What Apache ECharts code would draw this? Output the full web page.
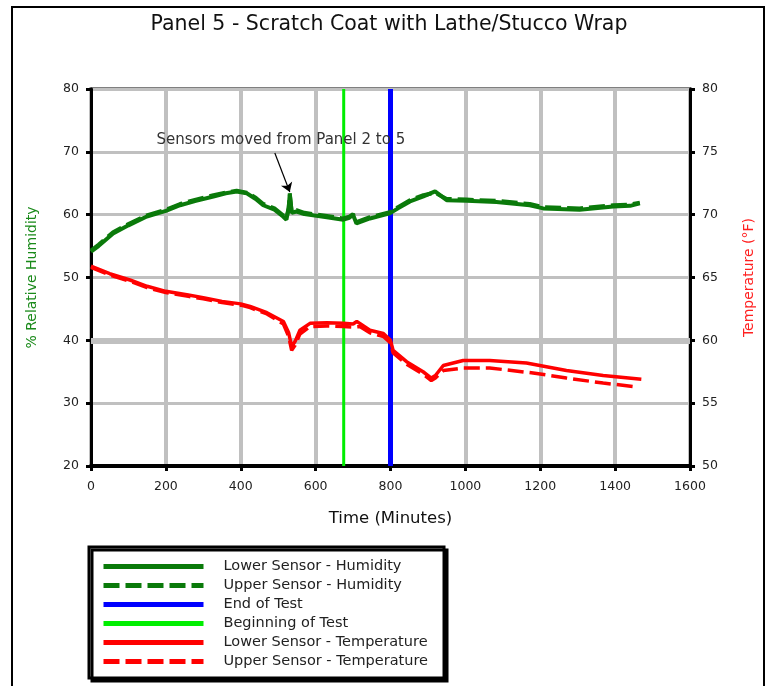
<!DOCTYPE html>
<html>
<head>
<meta charset="utf-8">
<script src="https://cdn.jsdelivr.net/npm/echarts@6/dist/echarts.min.js"></script>
<style>html,body{margin:0;padding:0;background:#fff;}#chart{width:778px;height:686px;}</style>
</head>
<body>
<div id="chart"></div>
<script>
// ---- Data ----
var titleText = 'Panel 5 - Scratch Coat with Lathe/Stucco Wrap';
var xTicks = [0, 200, 400, 600, 800, 1000, 1200, 1400, 1600];

// Humidity (% RH, left axis)
var humTime = [0, 20, 59, 100, 149, 200, 238, 280, 327, 360, 389, 416, 440, 460, 490, 513, 522, 528, 531, 536, 549, 570, 593, 630, 674, 690, 700, 709, 745, 798, 820, 852, 888, 919, 950, 1003, 1083, 1172, 1208, 1305, 1395, 1440, 1466];
var humLower = [54.1, 55.0, 57.0, 58.3, 59.7, 60.6, 61.5, 62.2, 62.9, 63.4, 63.7, 63.4, 62.5, 61.5, 60.8, 59.7, 59.2, 61.0, 63.4, 60.3, 60.5, 60.1, 59.9, 59.6, 59.2, 59.5, 60.0, 58.6, 59.4, 60.2, 61.0, 62.1, 62.9, 63.7, 62.3, 62.2, 62.0, 61.5, 61.0, 60.8, 61.3, 61.4, 61.8];
var humUpper = [54.3, 55.2, 57.2, 58.5, 59.9, 60.8, 61.7, 62.4, 63.1, 63.5, 63.8, 63.5, 62.7, 61.7, 61.0, 59.9, 59.4, 61.1, 63.2, 60.5, 60.7, 60.3, 60.1, 59.8, 59.4, 59.7, 60.1, 58.8, 59.6, 60.4, 61.2, 62.3, 63.1, 63.5, 62.5, 62.4, 62.2, 61.7, 61.2, 61.0, 61.5, 61.6, 61.9];

// Temperature (deg F, right axis)
var tempTime = [0, 50, 104, 150, 200, 260, 300, 350, 400, 425, 470, 514, 528, 536, 545, 558, 585, 630, 674, 700, 710, 718, 745, 781, 800, 807, 843, 887, 909, 920, 941, 994, 1065, 1163, 1270, 1368, 1470];
var tempLower = [65.9, 65.3, 64.8, 64.3, 63.9, 63.6, 63.4, 63.1, 62.9, 62.7, 62.2, 61.5, 60.6, 59.5, 59.9, 60.8, 61.35, 61.4, 61.35, 61.3, 61.5, 61.35, 60.8, 60.55, 60.0, 59.2, 58.3, 57.5, 57.0, 57.2, 58.0, 58.4, 58.4, 58.2, 57.6, 57.2, 56.9];
var tempUpperTime = [0, 50, 104, 150, 200, 260, 300, 350, 400, 425, 470, 514, 528, 536, 545, 558, 585, 630, 674, 700, 718, 745, 781, 800, 807, 843, 887, 909, 920, 941, 994, 1065, 1181, 1270, 1368, 1457];
var tempUpper = [65.8, 65.2, 64.7, 64.2, 63.8, 63.5, 63.3, 63.0, 62.8, 62.6, 62.1, 61.3, 60.3, 59.2, 59.6, 60.5, 61.1, 61.15, 61.1, 61.05, 61.1, 60.6, 60.3, 59.8, 59.0, 58.1, 57.3, 56.8, 57.0, 57.6, 57.8, 57.8, 57.4, 57.0, 56.6, 56.3];

// Test markers (minutes)
var beginningOfTest = 675;
var endOfTest = 800;

// Annotation
var noteText = 'Sensors moved from Panel 2 to 5';
var notePos = [507, 71.9];
var arrowFrom = [491, 69.8];
var arrowTo = [531, 63.6];

function pairs(xs, ys) { return xs.map(function (x, i) { return [x, ys[i]]; }); }

var FONT = 'DejaVu Sans';
var chart = echarts.init(document.getElementById('chart'), null, { renderer: 'canvas' });

var option = {
  backgroundColor: '#ffffff',
  animation: false,
  title: {
    text: titleText, left: 'center', top: 9,
    textStyle: { fontFamily: FONT, fontSize: 20.5, fontWeight: 'normal', color: '#111' }
  },
  graphic: [
    { type: 'rect', shape: { x: 12, y: 7, width: 752, height: 700 }, style: { fill: 'none', stroke: '#000', lineWidth: 2 }, z: -1 }
  ],
  grid: { left: 91, right: 88, top: 89, bottom: 220, show: true, borderColor: '#000', borderWidth: 3 },
  legend: {
    orient: 'vertical', left: 89, top: 547,
    padding: [12, 16, 9, 12],
    itemWidth: 100, itemHeight: 14, itemGap: 4,
    backgroundColor: '#fff',
    borderColor: '#000', borderWidth: 3,
    shadowColor: '#000', shadowBlur: 0, shadowOffsetX: 3, shadowOffsetY: 3,
    itemStyle: { opacity: 0 },
    lineStyle: { width: 5 },
    textStyle: { fontFamily: FONT, fontSize: 14.5, color: '#222', padding: [0, 0, 0, 15] },
    data: ['Lower Sensor - Humidity', 'Upper Sensor - Humidity', 'End of Test', 'Beginning of Test', 'Lower Sensor - Temperature', 'Upper Sensor - Temperature']
  },
  xAxis: {
    type: 'value', min: 0, max: 1600, interval: 200,
    name: 'Time (Minutes)', nameLocation: 'middle', nameGap: 44,
    nameTextStyle: { fontFamily: FONT, fontSize: 16.5, color: '#111' },
    axisLine: { show: true, lineStyle: { color: '#000', width: 4 } },
    axisTick: { show: true, length: 5, lineStyle: { color: '#000', width: 3 } },
    axisLabel: { fontFamily: FONT, fontSize: 12.5, color: '#222', margin: 14, formatter: function (v) { return String(v); } },
    splitLine: { show: true, lineStyle: { color: '#c0c0c0', width: 4 } }
  },
  yAxis: [
    {
      type: 'value', min: 20, max: 80, interval: 10, position: 'left',
      name: '% Relative Humidity', nameLocation: 'middle', nameGap: 52, nameRotate: 90,
      nameTextStyle: { fontFamily: FONT, fontSize: 14, color: '#1a8a1a' },
      axisLine: { show: true, lineStyle: { color: '#000', width: 3 } },
      axisTick: { show: true, length: 5, lineStyle: { color: '#000', width: 3 } },
      axisLabel: { fontFamily: FONT, fontSize: 12.5, color: '#222', margin: 12 },
      splitLine: { show: true, lineStyle: { color: '#c0c0c0', width: 3 } }
    },
    {
      type: 'value', min: 50, max: 80, interval: 5, position: 'right',
      name: 'Temperature (°F)', nameLocation: 'middle', nameGap: 52, nameRotate: 90,
      nameTextStyle: { fontFamily: FONT, fontSize: 14, color: '#ff2020' },
      axisLine: { show: true, lineStyle: { color: '#000', width: 3 } },
      axisTick: { show: true, length: 5, lineStyle: { color: '#000', width: 3 } },
      axisLabel: { fontFamily: FONT, fontSize: 12.5, color: '#222', margin: 12 },
      splitLine: { show: false }
    }
  ],
  series: [
    {
      name: 'Lower Sensor - Humidity', type: 'line', yAxisIndex: 0, data: pairs(humTime, humLower),
      showSymbol: false, symbol: 'none', color: '#0a7a0a', lineStyle: { color: '#0a7a0a', width: 4 }, z: 5,
      markLine: {
        silent: true, symbol: 'none', label: { show: false }, z: 1,
        lineStyle: { color: '#c0c0c0', width: 6, type: 'solid' },
        data: [{ yAxis: 40 }]
      },
      markPoint: {
        silent: true, symbol: 'circle', symbolSize: 0,
        label: { show: true, formatter: noteText, fontFamily: FONT, fontSize: 15, color: '#333', position: 'inside' },
        data: [{ coord: notePos }]
      }
    },
    {
      name: 'Upper Sensor - Humidity', type: 'line', yAxisIndex: 0, data: pairs(humTime, humUpper),
      showSymbol: false, symbol: 'none', color: '#0a7a0a', lineStyle: { color: '#0a7a0a', width: 4, type: [16, 6] }, z: 5,
      markLine: {
        silent: true, symbol: ['none', 'arrow'], symbolSize: 9, label: { show: false },
        lineStyle: { color: '#000', width: 1.2, type: 'solid' },
        data: [[{ coord: arrowFrom }, { coord: arrowTo }]]
      }
    },
    {
      name: 'End of Test', type: 'line', yAxisIndex: 0, data: [[endOfTest, 20], [endOfTest, 80]],
      showSymbol: false, symbol: 'none', color: '#0000ff', lineStyle: { color: '#0000ff', width: 5 }, z: 4
    },
    {
      name: 'Beginning of Test', type: 'line', yAxisIndex: 0, data: [[beginningOfTest, 20], [beginningOfTest, 80]],
      showSymbol: false, symbol: 'none', color: '#00ee00', lineStyle: { color: '#00ee00', width: 3 }, z: 4
    },
    {
      name: 'Lower Sensor - Temperature', type: 'line', yAxisIndex: 1, data: pairs(tempTime, tempLower),
      showSymbol: false, symbol: 'none', color: '#ff0000', lineStyle: { color: '#ff0000', width: 3.5 }, z: 5
    },
    {
      name: 'Upper Sensor - Temperature', type: 'line', yAxisIndex: 1, data: pairs(tempUpperTime, tempUpper),
      showSymbol: false, symbol: 'none', color: '#ff0000', lineStyle: { color: '#ff0000', width: 3.5, type: [16, 6] }, z: 5
    }
  ]
};
chart.setOption(option);
</script>
</body>
</html>
